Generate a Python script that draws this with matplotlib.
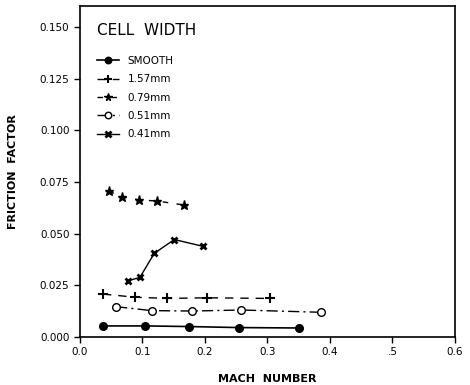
import matplotlib
matplotlib.use("Agg")
import matplotlib.pyplot as plt

plt.rcParams['font.family'] = ['DejaVu Sans']

# values
smooth_x = [0.037, 0.104, 0.174, 0.254, 0.350]
smooth_y = [0.0053, 0.0053, 0.0050, 0.0045, 0.0043]

w157_x = [0.037, 0.088, 0.140, 0.204, 0.304]
w157_y = [0.0207, 0.0192, 0.0186, 0.0189, 0.0186]

w079_x = [0.046, 0.068, 0.094, 0.124, 0.166]
w079_y = [0.0705, 0.0678, 0.0663, 0.0657, 0.0638]

w051_x = [0.058, 0.115, 0.179, 0.258, 0.385]
w051_y = [0.0146, 0.0127, 0.0125, 0.0130, 0.0119]

w041_x = [0.077, 0.096, 0.119, 0.151, 0.197]
w041_y = [0.0271, 0.0288, 0.0404, 0.0471, 0.0438]

x_ticks = [0.0, 0.1, 0.2, 0.3, 0.4, 0.5, 0.6]
y_ticks = [0.000, 0.025, 0.050, 0.075, 0.100, 0.125, 0.150]

fig = plt.figure(figsize=(4.7, 3.85), dpi=100)
ax = fig.add_axes([0.170, 0.125, 0.798, 0.859])

ax.plot(smooth_x, smooth_y, '-', color='black', marker='o', ms=5.5, lw=1.2, label='SMOOTH')
ax.plot(w157_x, w157_y, color='black', ls=(0, (6, 5)), marker='+', ms=7, mew=1.5, lw=1.0, label='1.57mm')
ax.plot(w079_x, w079_y, color='black', ls=(0, (4, 6)), marker='*', ms=6.5, lw=1.0, label='0.79mm')
ax.plot(w051_x, w051_y, color='black', ls=(0, (8, 3, 1.5, 3)), marker='o', mfc='white', ms=5.5, mew=1.0, lw=1.0, label='0.51mm')
ax.plot(w041_x, w041_y, '-', color='black', marker='x', ms=4.5, mew=2.0, lw=1.0, label='0.41mm')

ax.set_xlim(0, 0.6)
ax.set_ylim(0, 0.16)
ax.set_xticks(x_ticks)
ax.set_xticklabels(['0.0', '0.1', '0.2', '0.3', '0.4', '.5', '0.6'])
ax.set_yticks(y_ticks)
ax.set_yticklabels(['0.000', '0.025', '0.050', '0.075', '0.100', '0.125', '0.150'])
ax.tick_params(direction='out', length=4, width=1, labelsize=7.5)

for s in ax.spines.values():
    s.set_linewidth(1.2)

ax.set_xlabel('MACH  NUMBER', fontsize=8, fontweight='bold', labelpad=12)
ax.set_ylabel('FRICTION  FACTOR', fontsize=8, fontweight='bold', labelpad=16)

leg = ax.legend(loc='upper left', frameon=False, title='CELL  WIDTH', fontsize=7.5,
                title_fontsize=11, handlelength=2.2, labelspacing=0.8,
                borderaxespad=1.2, alignment='left', markerscale=0.85)
leg._legend_box.sep = 13

fig.savefig('out.png', dpi=100)
